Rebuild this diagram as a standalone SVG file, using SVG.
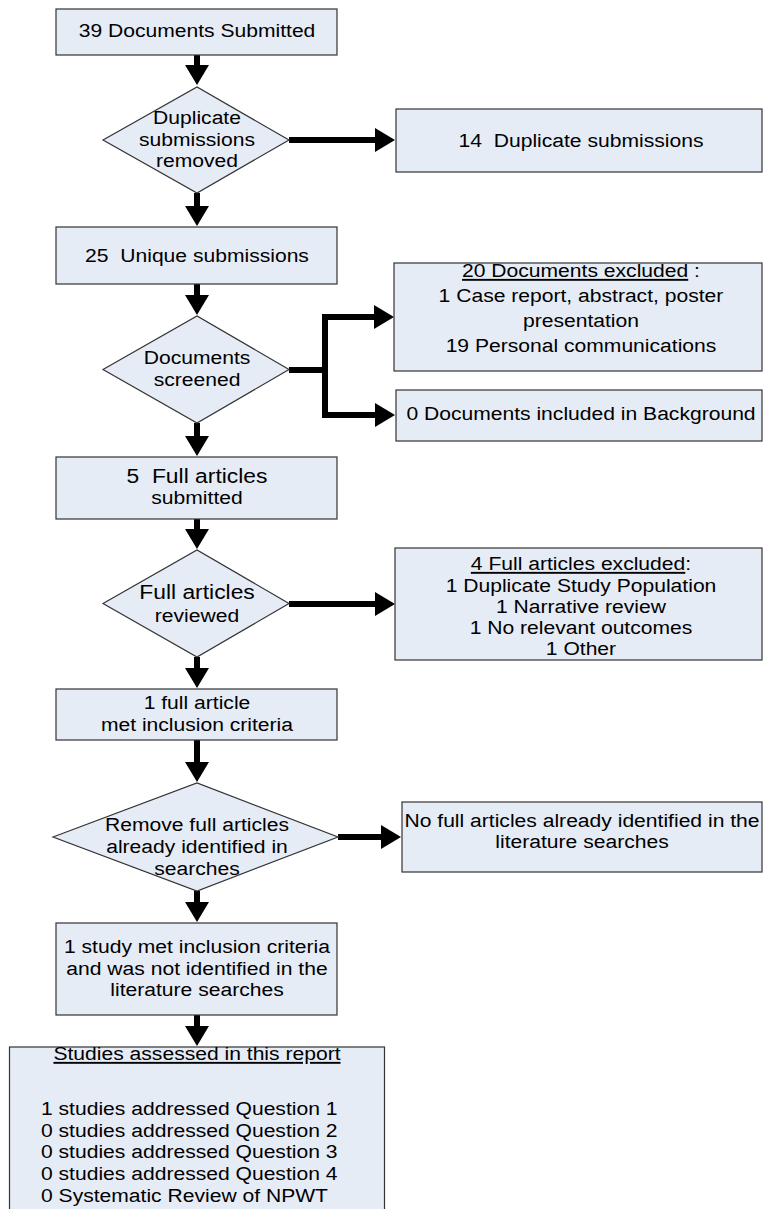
<svg xmlns="http://www.w3.org/2000/svg" width="764" height="1209" viewBox="0 0 764 1209">
  <style>
    .box { fill: #E6ECF6; stroke: #333; stroke-width: 1.2; }
    .t { font-family: "Liberation Sans", Arial, sans-serif; font-size: 19px; fill: #000; text-anchor: middle; white-space: pre;
         transform: scaleX(1.11); transform-box: fill-box; transform-origin: 50% 50%; }
    .l { text-anchor: start; transform-origin: 0% 50%; }
    .big { font-size: 20.6px; }
    .u { text-decoration: underline; }
    .c { fill: none; stroke: #000; stroke-width: 6; stroke-linejoin: miter; marker-end: url(#ah); }
  </style>
  <defs>
    <marker id="ah" markerUnits="userSpaceOnUse" markerWidth="20" markerHeight="24" viewBox="0 0 20 24" refX="0" refY="12" orient="auto">
      <path d="M0,0 L20,12 L0,24 Z" fill="#000"/>
    </marker>
  </defs>
  <rect width="764" height="1209" fill="#fff"/>

  <g id="connectors">
    <path class="c" d="M197,55 V65"/>
    <path class="c" d="M289,140 H375"/>
    <path class="c" d="M197,193 V206"/>
    <path class="c" d="M197,284 V295"/>
    <path class="c" d="M289,370 H325 V317 H374"/>
    <path class="c" d="M325,368 V415 H375"/>
    <path class="c" d="M197,423 V436"/>
    <path class="c" d="M197,519 V529"/>
    <path class="c" d="M289,604 H375"/>
    <path class="c" d="M197,657 V668"/>
    <path class="c" d="M197,740 V762"/>
    <path class="c" d="M338,837 H381"/>
    <path class="c" d="M197,891 V902"/>
    <path class="c" d="M197,1015 V1026"/>
  </g>

  <g id="submitted">
    <rect class="box" x="56" y="9" width="281" height="46"/>
    <text class="t" x="197" y="37">39 Documents Submitted</text>
  </g>

  <g id="dedup">
    <polygon class="box" points="103,140 197,87 289,140 197,193"/>
    <text class="t" x="197" y="124.5">Duplicate</text>
    <text class="t" x="197" y="146">submissions</text>
    <text class="t" x="197" y="167.5">removed</text>
  </g>

  <g id="duplicates">
    <rect class="box" x="396" y="109" width="366" height="63"/>
    <text class="t" x="581" y="147">14  Duplicate submissions</text>
  </g>

  <g id="unique">
    <rect class="box" x="56" y="227" width="281" height="57"/>
    <text class="t" x="197" y="262">25  Unique submissions</text>
  </g>

  <g id="screened">
    <polygon class="box" points="103,369.5 197,316 289,369.5 197,423"/>
    <text class="t" x="197" y="364">Documents</text>
    <text class="t" x="197" y="386">screened</text>
  </g>

  <g id="docs-excluded">
    <rect class="box" x="394" y="263" width="368" height="108"/>
    <text class="t" x="581" y="277"><tspan class="u">20 Documents excluded</tspan> :</text>
    <text class="t" x="581" y="302">1 Case report, abstract, poster</text>
    <text class="t" x="581" y="327">presentation</text>
    <text class="t" x="581" y="352">19 Personal communications</text>
  </g>

  <g id="background">
    <rect class="box" x="396" y="390" width="366" height="51"/>
    <text class="t" x="581" y="420">0 Documents included in Background</text>
  </g>

  <g id="full-submitted">
    <rect class="box" x="56" y="457" width="281" height="62"/>
    <text class="t big" x="197" y="483">5  Full articles</text>
    <text class="t" x="197" y="504">submitted</text>
  </g>

  <g id="full-reviewed">
    <polygon class="box" points="103,603.5 197,550 289,603.5 197,657"/>
    <text class="t big" x="197" y="599">Full articles</text>
    <text class="t" x="197" y="622">reviewed</text>
  </g>

  <g id="full-excluded">
    <rect class="box" x="395" y="548" width="367" height="112"/>
    <text class="t" x="581" y="570"><tspan class="u">4 Full articles excluded</tspan>:</text>
    <text class="t" x="581" y="592">1 Duplicate Study Population</text>
    <text class="t" x="581" y="613">1 Narrative review</text>
    <text class="t" x="581" y="634">1 No relevant outcomes</text>
    <text class="t" x="581" y="655">1 Other</text>
  </g>

  <g id="met-criteria">
    <rect class="box" x="56" y="689" width="281" height="51"/>
    <text class="t" x="197" y="709">1 full article</text>
    <text class="t" x="197" y="731.5">met inclusion criteria</text>
  </g>

  <g id="remove-identified">
    <polygon class="box" points="53,837 197,783 338,837 197,891"/>
    <text class="t" x="197" y="831">Remove full articles</text>
    <text class="t" x="197" y="853">already identified in</text>
    <text class="t" x="197" y="875">searches</text>
  </g>

  <g id="none-identified">
    <rect class="box" x="402" y="802" width="360" height="70"/>
    <text class="t" x="582" y="827">No full articles already identified in the</text>
    <text class="t" x="582" y="848">literature searches</text>
  </g>

  <g id="new-study">
    <rect class="box" x="56" y="923" width="281" height="92"/>
    <text class="t" x="197" y="953">1 study met inclusion criteria</text>
    <text class="t" x="197" y="975">and was not identified in the</text>
    <text class="t" x="197" y="996">literature searches</text>
  </g>

  <g id="assessed">
    <rect class="box" x="9.5" y="1047" width="375" height="180"/>
    <text class="t" x="197" y="1060"><tspan class="u">Studies assessed in this report</tspan></text>
    <text class="t l" x="41" y="1115">1 studies addressed Question 1</text>
    <text class="t l" x="41" y="1136.7">0 studies addressed Question 2</text>
    <text class="t l" x="41" y="1158.3">0 studies addressed Question 3</text>
    <text class="t l" x="41" y="1180">0 studies addressed Question 4</text>
    <text class="t l" x="41" y="1201.7">0 Systematic Review of NPWT</text>
  </g>
</svg>
